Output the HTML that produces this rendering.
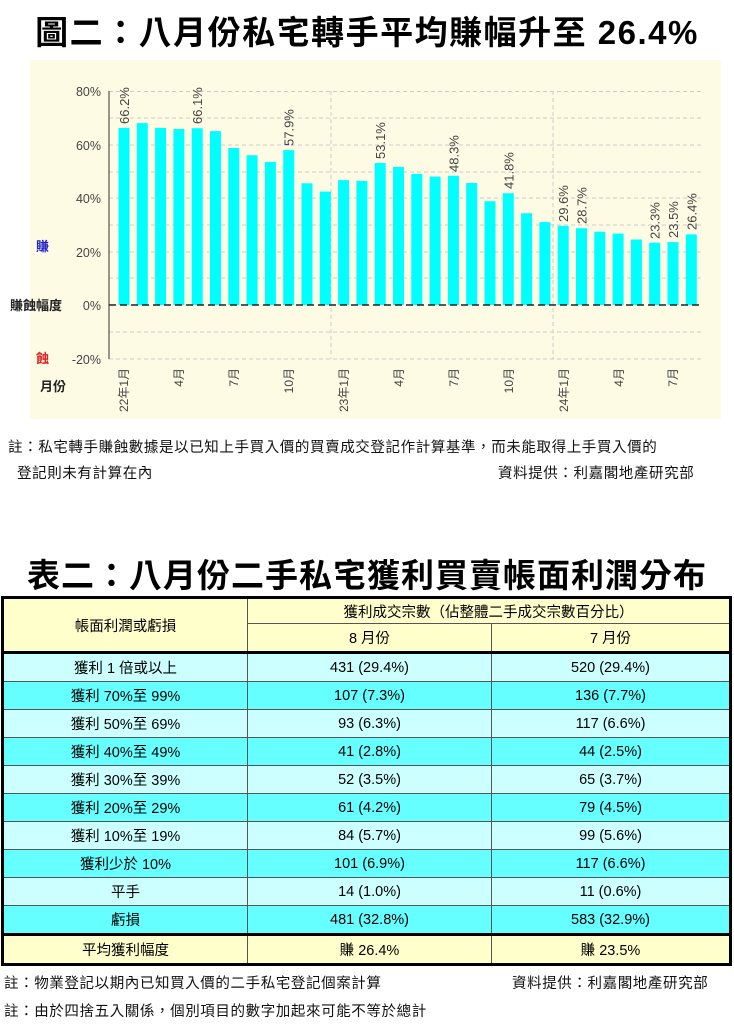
<!DOCTYPE html>
<html><head><meta charset="utf-8"><style>
body{margin:0;width:734px;height:1024px;background:#fff;font-family:"Liberation Sans","Noto Sans CJK TC",sans-serif;overflow:hidden;position:relative}
.t{position:absolute;left:0;width:734px;text-align:center;font-weight:bold;font-size:33px;letter-spacing:1.5px;font-family:"Liberation Sans","Noto Sans CJK TC",sans-serif;color:#000}
.n{position:absolute;font-size:14.5px;color:#111;letter-spacing:0.6px}
table{position:absolute;left:1px;top:596px;width:731px;border-collapse:collapse;font-size:14.5px;text-align:center;font-family:"Liberation Sans","Noto Sans CJK TC",sans-serif}
td{border:1px solid #555;padding:0;height:27px}
.h td{background:#ffffcc}
.a td{background:#ccffff}.b td{background:#66ffff}
</style></head><body>
<div class="t" style="top:6px">圖二：八月份私宅轉手平均賺幅升至 26.4%</div>
<svg style="position:absolute;left:0;top:0" width="734" height="430">
<rect x="30" y="60" width="691" height="359" fill="#fdfbe4"/>
<g stroke="#ccc" stroke-dasharray="4,3" stroke-width="1">
<line x1="109" y1="91.5" x2="703" y2="91.5"/><line x1="109" y1="118" x2="703" y2="118"/><line x1="109" y1="145" x2="703" y2="145"/><line x1="109" y1="172" x2="703" y2="172"/><line x1="109" y1="198" x2="703" y2="198"/><line x1="109" y1="225" x2="703" y2="225"/><line x1="109" y1="252" x2="703" y2="252"/><line x1="109" y1="278" x2="703" y2="278"/><line x1="109" y1="332" x2="703" y2="332"/><line x1="109" y1="359" x2="703" y2="359"/>
<line x1="331" y1="91" x2="331" y2="359"/><line x1="553" y1="91" x2="553" y2="359"/>
</g>
<line x1="109" y1="91" x2="109" y2="359" stroke="#333"/>
<g fill="#00ffff">
<rect x="118.5" y="127.9" width="11" height="177.1"/><rect x="136.8" y="123.1" width="11" height="181.9"/><rect x="155.1" y="127.9" width="11" height="177.1"/><rect x="173.4" y="129" width="11" height="176"/><rect x="191.7" y="128.2" width="11" height="176.8"/><rect x="210" y="131.1" width="11" height="173.9"/><rect x="228.3" y="148" width="11" height="157"/><rect x="246.6" y="155.2" width="11" height="149.8"/><rect x="264.9" y="161.9" width="11" height="143.1"/><rect x="283.2" y="150.1" width="11" height="154.9"/><rect x="301.5" y="183.3" width="11" height="121.7"/><rect x="319.8" y="191.6" width="11" height="113.4"/><rect x="338.1" y="180.1" width="11" height="124.9"/><rect x="356.4" y="180.9" width="11" height="124.1"/><rect x="374.7" y="163" width="11" height="142"/><rect x="393" y="167" width="11" height="138"/><rect x="411.3" y="173.9" width="11" height="131.1"/><rect x="429.6" y="176.6" width="11" height="128.4"/><rect x="447.9" y="175.8" width="11" height="129.2"/><rect x="466.2" y="183" width="11" height="122"/><rect x="484.5" y="201.2" width="11" height="103.8"/><rect x="502.8" y="193.2" width="11" height="111.8"/><rect x="521.1" y="213.2" width="11" height="91.8"/><rect x="539.4" y="222.1" width="11" height="82.9"/><rect x="557.7" y="225.8" width="11" height="79.2"/><rect x="576" y="228.2" width="11" height="76.8"/><rect x="594.3" y="231.7" width="11" height="73.3"/><rect x="612.6" y="233.6" width="11" height="71.4"/><rect x="630.9" y="239.5" width="11" height="65.5"/><rect x="649.2" y="242.7" width="11" height="62.3"/><rect x="667.5" y="242.1" width="11" height="62.9"/><rect x="685.8" y="234.4" width="11" height="70.6"/>
</g>
<line x1="109" y1="305" x2="703" y2="305" stroke="#222" stroke-width="1.5" stroke-dasharray="7,4"/>
<g font-size="12.5" fill="#444" text-anchor="end" font-family="Liberation Sans,sans-serif">
<text x="101" y="96">80%</text><text x="101" y="150">60%</text><text x="101" y="203">40%</text><text x="101" y="257">20%</text><text x="101" y="310">0%</text><text x="101" y="364">-20%</text>
</g>
<g font-size="13" font-weight="bold">
<text x="36" y="251" fill="#22c">賺</text><text x="10" y="310" fill="#222">賺蝕幅度</text><text x="36" y="363" fill="#d22">蝕</text><text x="40" y="391" fill="#222">月份</text>
</g>
<g font-size="13" fill="#444">
<text transform="translate(129,124) rotate(-90)">66.2%</text>
<text transform="translate(202.2,124) rotate(-90)">66.1%</text>
<text transform="translate(293.7,146) rotate(-90)">57.9%</text>
<text transform="translate(385.2,159) rotate(-90)">53.1%</text>
<text transform="translate(458.4,172) rotate(-90)">48.3%</text>
<text transform="translate(513.3,189) rotate(-90)">41.8%</text>
<text transform="translate(568.2,222) rotate(-90)">29.6%</text>
<text transform="translate(586.5,224) rotate(-90)">28.7%</text>
<text transform="translate(659.7,239) rotate(-90)">23.3%</text>
<text transform="translate(678,238) rotate(-90)">23.5%</text>
<text transform="translate(696.3,230) rotate(-90)">26.4%</text>
</g>
<g font-size="12" fill="#444" text-anchor="end">
<text transform="translate(128,368) rotate(-90)">22年1月</text>
<text transform="translate(183,368) rotate(-90)">4月</text>
<text transform="translate(238,368) rotate(-90)">7月</text>
<text transform="translate(293,368) rotate(-90)">10月</text>
<text transform="translate(348,368) rotate(-90)">23年1月</text>
<text transform="translate(403,368) rotate(-90)">4月</text>
<text transform="translate(458,368) rotate(-90)">7月</text>
<text transform="translate(513,368) rotate(-90)">10月</text>
<text transform="translate(568,368) rotate(-90)">24年1月</text>
<text transform="translate(623,368) rotate(-90)">4月</text>
<text transform="translate(677,368) rotate(-90)">7月</text>
</g>
</svg>
<div class="n" style="left:8px;top:436px">註：私宅轉手賺蝕數據是以已知上手買入價的買賣成交登記作計算基準，而未能取得上手買入價的</div>
<div class="n" style="left:17px;top:462px">登記則未有計算在內</div>
<div class="n" style="left:498px;top:462px">資料提供：利嘉閣地產研究部</div>
<div class="t" style="top:549px;font-size:33px;letter-spacing:1px">表二：八月份二手私宅獲利買賣帳面利潤分布</div>
<table>
<tr class="h"><td rowspan="2" style="width:243px;border-left:3px solid #000;border-top:3px solid #000">帳面利潤或虧損</td><td colspan="2" style="border-top:3px solid #000;border-right:3px solid #000;height:24px">獲利成交宗數（佔整體二手成交宗數百分比）</td></tr>
<tr class="h"><td style="width:243px;height:26px">8 月份</td><td style="border-right:3px solid #000">7 月份</td></tr>
<tr class="a"><td style="border-left:3px solid #000;border-top:3px solid #000">獲利 1 倍或以上</td><td style="border-top:3px solid #000">431 (29.4%)</td><td style="border-top:3px solid #000;border-right:3px solid #000">520 (29.4%)</td></tr>
<tr class="b"><td style="border-left:3px solid #000">獲利 70%至 99%</td><td>107 (7.3%)</td><td style="border-right:3px solid #000">136 (7.7%)</td></tr>
<tr class="a"><td style="border-left:3px solid #000">獲利 50%至 69%</td><td>93 (6.3%)</td><td style="border-right:3px solid #000">117 (6.6%)</td></tr>
<tr class="b"><td style="border-left:3px solid #000">獲利 40%至 49%</td><td>41 (2.8%)</td><td style="border-right:3px solid #000">44 (2.5%)</td></tr>
<tr class="a"><td style="border-left:3px solid #000">獲利 30%至 39%</td><td>52 (3.5%)</td><td style="border-right:3px solid #000">65 (3.7%)</td></tr>
<tr class="b"><td style="border-left:3px solid #000">獲利 20%至 29%</td><td>61 (4.2%)</td><td style="border-right:3px solid #000">79 (4.5%)</td></tr>
<tr class="a"><td style="border-left:3px solid #000">獲利 10%至 19%</td><td>84 (5.7%)</td><td style="border-right:3px solid #000">99 (5.6%)</td></tr>
<tr class="b"><td style="border-left:3px solid #000">獲利少於 10%</td><td>101 (6.9%)</td><td style="border-right:3px solid #000">117 (6.6%)</td></tr>
<tr class="a"><td style="border-left:3px solid #000">平手</td><td>14 (1.0%)</td><td style="border-right:3px solid #000">11 (0.6%)</td></tr>
<tr class="b"><td style="border-left:3px solid #000">虧損</td><td>481 (32.8%)</td><td style="border-right:3px solid #000">583 (32.9%)</td></tr>
<tr class="h"><td style="border:3px solid #000;border-right:1px solid #555;height:25px">平均獲利幅度</td><td style="border-top:3px solid #000;border-bottom:3px solid #000">賺 26.4%</td><td style="border:3px solid #000;border-left:1px solid #555">賺 23.5%</td></tr>
</table>
<div class="n" style="left:4px;top:972px">註：物業登記以期內已知買入價的二手私宅登記個案計算</div>
<div class="n" style="left:512px;top:972px">資料提供：利嘉閣地產研究部</div>
<div class="n" style="left:4px;top:1000px">註：由於四捨五入關係，個別項目的數字加起來可能不等於總計</div>
</body></html>
